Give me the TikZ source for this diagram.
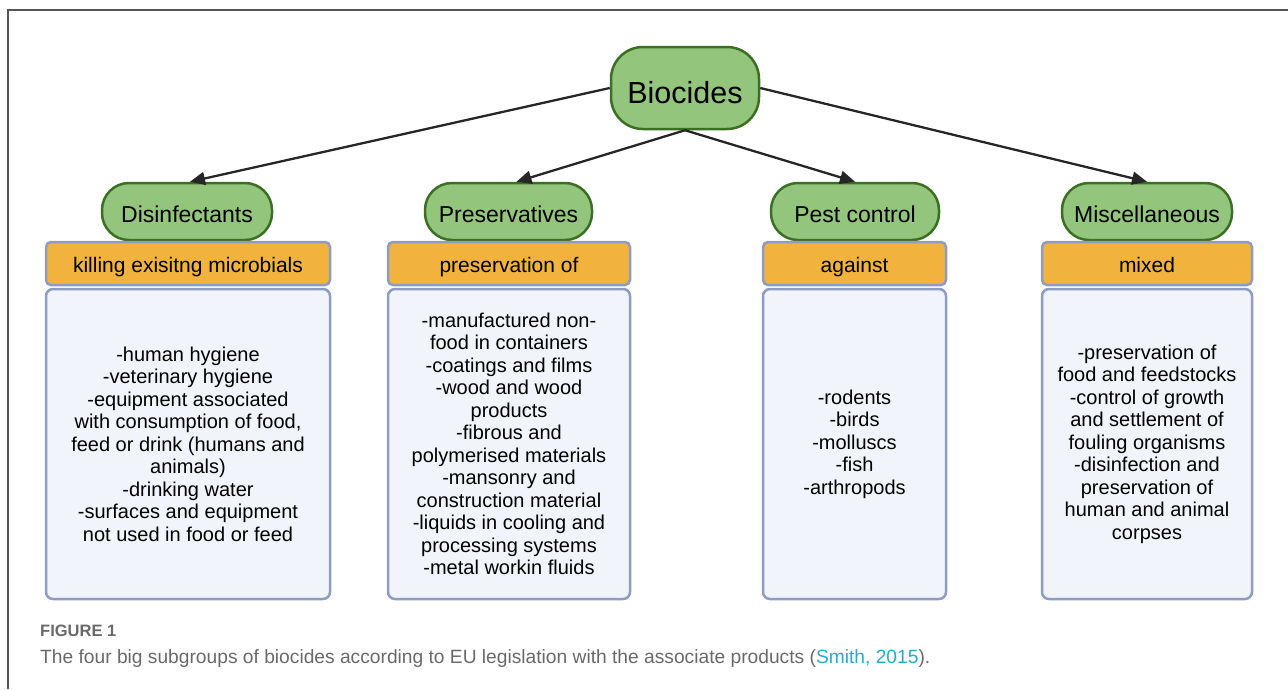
\documentclass[tikz,border=0pt]{standalone}
\usepackage{fontspec}
\setmainfont{Liberation Sans}
\usetikzlibrary{arrows.meta}
\definecolor{leaf}{RGB}{148,197,124}
\definecolor{leafline}{RGB}{58,112,34}
\definecolor{amber}{RGB}{242,178,62}
\definecolor{slate}{RGB}{140,156,194}
\definecolor{mist}{RGB}{241,244,250}
\definecolor{framegray}{RGB}{85,85,85}
\definecolor{capgray}{RGB}{105,105,105}
\definecolor{citeblue}{RGB}{30,175,205}
\tikzset{
  group/.style={draw=leafline, fill=leaf, line width=2.5pt, rounded corners=27pt,
    minimum height=57pt, inner sep=0pt, text height=22pt, text depth=0pt,
    font=\fontsize{23}{27}\selectfont},
  tag/.style={draw=slate, fill=amber, line width=2.5pt, rounded corners=5pt,
    minimum height=43pt, inner sep=0pt, text height=17pt, text depth=0pt,
    font=\fontsize{21}{24}\selectfont},
  list/.style={draw=slate, fill=mist, line width=2.5pt, rounded corners=7pt,
    minimum height=310pt, inner sep=0pt, align=center,
    font=\fontsize{20}{22.5}\selectfont},
  link/.style={-{Triangle[length=15pt,width=13pt]}, line width=2.3pt, draw=black!85}
}
\begin{document}
\begin{tikzpicture}[x=1pt,y=-1pt]
\useasboundingbox (0,0) rectangle (1288,689);
% frame
\draw[framegray, line width=2pt] (8,689) -- (8,10) -- (1288,10);
% top node
\node[group, rounded corners=32pt, minimum width=148pt, minimum height=82pt,
  text height=30.5pt, font=\fontsize{30.5}{34}\selectfont] (bio) at (685,88) {Biocides};
% the four groups
\node[group, minimum width=170pt] (dis) at (187,211.5) {Disinfectants};
\node[group, minimum width=167pt] (pre) at (508.5,211.5) {Preservatives};
\node[group, minimum width=168pt] (pest) at (855,211.5) {Pest control};
\node[group, minimum width=170pt] (misc) at (1147,211.5) {Miscellaneous};
% orange bars
\node[tag, minimum width=284pt] (disT) at (188,263.5) {killing exisitng microbials};
\node[tag, minimum width=242pt] (preT) at (509,263.5) {preservation of};
\node[tag, minimum width=183pt] (pestT) at (854.5,263.5) {against};
\node[tag, minimum width=210pt] (miscT) at (1147,263.5) {mixed};
% lists
\node[list, minimum width=284pt] (disL) at (188,444) {-human hygiene\\-veterinary hygiene\\-equipment associated\\with consumption of food,\\feed or drink (humans and\\animals)\\-drinking water\\-surfaces and equipment\\not used in food or feed};
\node[list, minimum width=242pt] (preL) at (509,444) {-manufactured non-\\food in containers\\-coatings and films\\-wood and wood\\products\\-fibrous and\\polymerised materials\\-mansonry and\\construction material\\-liquids in cooling and\\processing systems\\-metal workin fluids};
\node[list, minimum width=183pt] (pestL) at (854.5,444) {-rodents\\-birds\\-molluscs\\-fish\\-arthropods};
\node[list, minimum width=210pt] (miscL) at (1147,444) {-preservation of\\food and feedstocks\\-control of growth\\and settlement of\\fouling organisms\\-disinfection and\\preservation of\\human and animal\\corpses};
% arrows
\draw[link] (bio.west) -- ([xshift=3pt]dis.north);
\draw[link] (bio.south) -- ([xshift=8pt]pre.north);
\draw[link] (bio.south) -- (pest.north);
\draw[link] (bio.east) -- (misc.north);
% caption
\node[anchor=base west, inner sep=0pt, text=capgray, font=\fontsize{16.5}{19}\selectfont\bfseries] (fig) at (40,636) {FIGURE 1};
\node[anchor=base west, inner sep=0pt, text=capgray, font=\fontsize{19.2}{22}\selectfont] (cap) at (40,663) {The four big subgroups of biocides according to EU legislation with the associate products (\textcolor{citeblue}{Smith, 2015}).};
\end{tikzpicture}
\end{document}
